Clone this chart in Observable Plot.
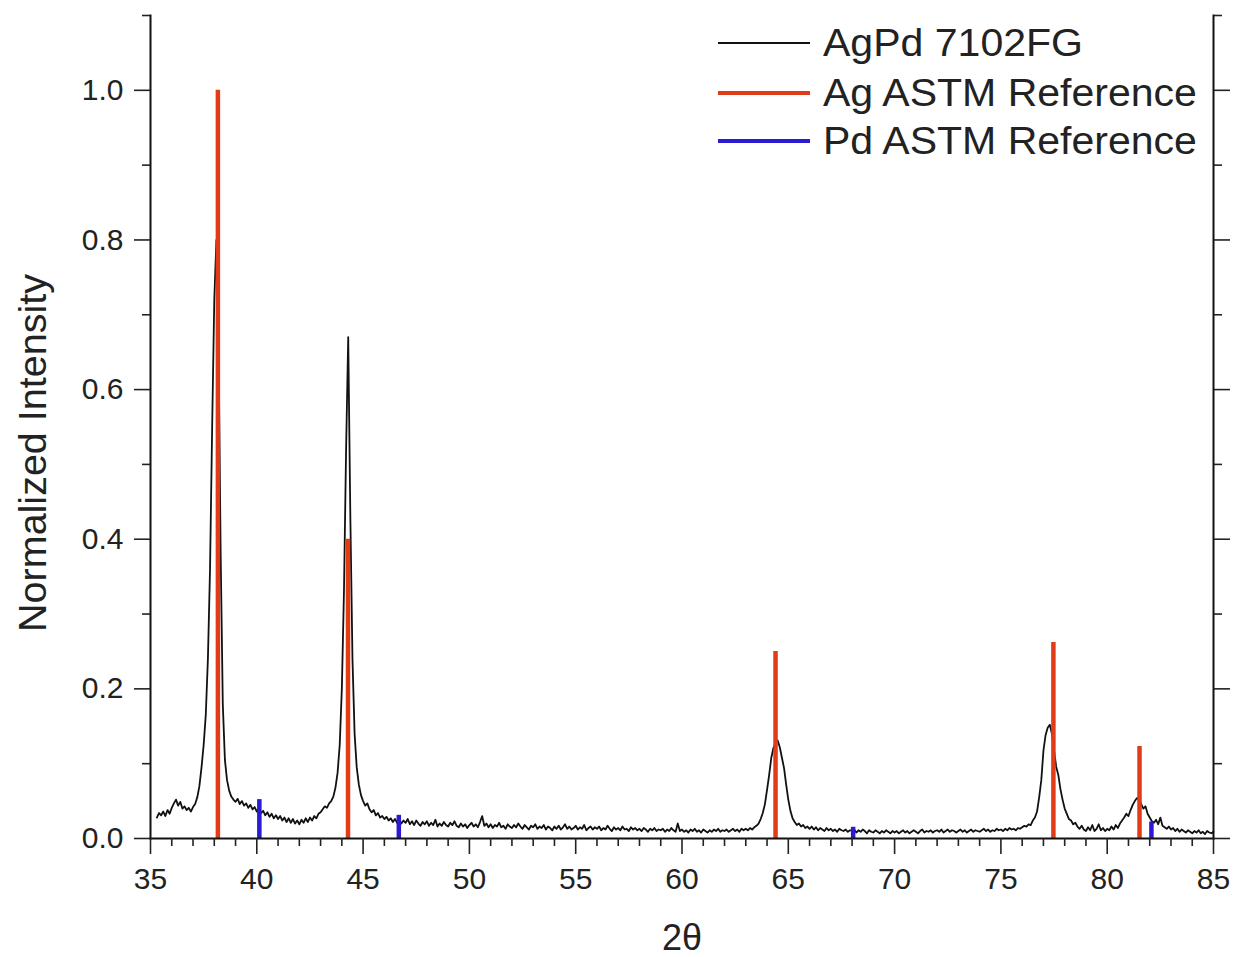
<!DOCTYPE html>
<html>
<head>
<meta charset="utf-8">
<script src="https://cdn.jsdelivr.net/npm/d3@7"></script>
<script src="https://cdn.jsdelivr.net/npm/@observablehq/plot@0.6"></script>
<style>
  html, body { margin: 0; padding: 0; background: #fff; }
  #chart { width: 1238px; height: 957px; }
</style>
</head>
<body>
<div id="chart"></div>
<script>
// ---- Data ----
// Measured pattern: 2θ grid starts at 35.3° with 0.1° sampling
const thetaStart = 35.3;
const thetaStep = 0.1;
const intensity = [
  0.028, 0.034, 0.031, 0.036, 0.030, 0.038, 0.033,                       // 35.3-35.9
  0.041, 0.047, 0.052, 0.044, 0.049, 0.040, 0.043, 0.038, 0.041, 0.036,  // 36
  0.042, 0.046, 0.055, 0.070, 0.095, 0.125, 0.165, 0.240, 0.360, 0.550,  // 37
  0.720, 0.800, 0.660, 0.380, 0.180, 0.105, 0.078, 0.064, 0.056, 0.052,  // 38
  0.049, 0.053, 0.046, 0.050, 0.044, 0.047, 0.041, 0.045, 0.039, 0.042,  // 39
  0.036, 0.040, 0.034, 0.037, 0.031, 0.035, 0.029, 0.033, 0.027, 0.031,  // 40
  0.026, 0.030, 0.024, 0.028, 0.022, 0.027, 0.021, 0.026, 0.020, 0.024,  // 41
  0.019, 0.025, 0.021, 0.027, 0.022, 0.028, 0.024, 0.030, 0.027, 0.033,  // 42
  0.035, 0.039, 0.043, 0.041, 0.047, 0.050, 0.056, 0.068, 0.088, 0.125,  // 43
  0.200, 0.330, 0.520, 0.670, 0.430, 0.240, 0.140, 0.095, 0.072, 0.058,  // 44
  0.050, 0.044, 0.047, 0.039, 0.035, 0.038, 0.031, 0.034, 0.028, 0.030,  // 45
  0.026, 0.029, 0.024, 0.027, 0.022, 0.026, 0.021, 0.025, 0.020, 0.024,  // 46
  0.021, 0.026, 0.019, 0.023, 0.018, 0.024, 0.020, 0.017, 0.022, 0.019,  // 47
  0.023, 0.017, 0.021, 0.018, 0.025, 0.016, 0.020, 0.017, 0.022, 0.018,  // 48
  0.016, 0.021, 0.018, 0.023, 0.017, 0.015, 0.020, 0.016, 0.019, 0.014,  // 49
  0.018, 0.021, 0.016, 0.019, 0.015, 0.022, 0.030, 0.017, 0.020, 0.015,  // 50
  0.019, 0.014, 0.018, 0.016, 0.021, 0.015, 0.017, 0.013, 0.019, 0.016,  // 51
  0.014, 0.018, 0.015, 0.020, 0.016, 0.013, 0.018, 0.015, 0.012, 0.017,  // 52
  0.015, 0.019, 0.013, 0.016, 0.014, 0.018, 0.012, 0.016, 0.014, 0.011,  // 53
  0.016, 0.013, 0.017, 0.012, 0.015, 0.019, 0.013, 0.016, 0.012, 0.014,  // 54
  0.017, 0.012, 0.015, 0.013, 0.018, 0.011, 0.014, 0.016, 0.012, 0.015,  // 55
  0.013, 0.016, 0.011, 0.014, 0.012, 0.017, 0.013, 0.010, 0.015, 0.012,  // 56
  0.014, 0.011, 0.016, 0.012, 0.013, 0.010, 0.015, 0.012, 0.014, 0.011,  // 57
  0.013, 0.010, 0.014, 0.012, 0.009, 0.013, 0.011, 0.014, 0.010, 0.012,  // 58
  0.011, 0.013, 0.009, 0.012, 0.010, 0.014, 0.011, 0.009, 0.020, 0.010,  // 59
  0.012, 0.009, 0.011, 0.008, 0.012, 0.010, 0.013, 0.009, 0.011, 0.008,  // 60
  0.012, 0.010, 0.008, 0.011, 0.009, 0.012, 0.010, 0.013, 0.009, 0.011,  // 61
  0.010, 0.012, 0.009, 0.011, 0.013, 0.010, 0.012, 0.009, 0.013, 0.011,  // 62
  0.013, 0.011, 0.014, 0.012, 0.015, 0.017, 0.020, 0.026, 0.034, 0.046,  // 63
  0.065, 0.085, 0.108, 0.121, 0.128, 0.131, 0.122, 0.108, 0.094, 0.072,  // 64
  0.052, 0.037, 0.027, 0.022, 0.018, 0.020, 0.016, 0.018, 0.014, 0.016,  // 65
  0.013, 0.016, 0.012, 0.015, 0.011, 0.014, 0.012, 0.010, 0.014, 0.011,  // 66
  0.013, 0.010, 0.012, 0.009, 0.013, 0.011, 0.010, 0.012, 0.009, 0.011,  // 67
  0.010, 0.012, 0.008, 0.011, 0.009, 0.012, 0.010, 0.007, 0.011, 0.009,  // 68
  0.008, 0.011, 0.009, 0.007, 0.010, 0.008, 0.011, 0.009, 0.007, 0.010,  // 69
  0.008, 0.010, 0.007, 0.009, 0.011, 0.008, 0.010, 0.007, 0.009, 0.011,  // 70
  0.009, 0.007, 0.010, 0.012, 0.008, 0.010, 0.009, 0.011, 0.008, 0.010,  // 71
  0.011, 0.009, 0.012, 0.008, 0.010, 0.012, 0.009, 0.011, 0.010, 0.008,  // 72
  0.010, 0.012, 0.009, 0.011, 0.008, 0.010, 0.012, 0.009, 0.011, 0.010,  // 73
  0.009, 0.011, 0.013, 0.010, 0.012, 0.009, 0.011, 0.010, 0.013, 0.011,  // 74
  0.012, 0.010, 0.013, 0.011, 0.014, 0.012, 0.013, 0.011, 0.014, 0.013,  // 75
  0.015, 0.017, 0.016, 0.019, 0.018, 0.024, 0.028, 0.036, 0.055, 0.078,  // 76
  0.117, 0.138, 0.148, 0.152, 0.140, 0.118, 0.096, 0.085, 0.066, 0.052,  // 77
  0.040, 0.033, 0.026, 0.024, 0.019, 0.021, 0.016, 0.013, 0.017, 0.012,  // 78
  0.010, 0.015, 0.011, 0.018, 0.010, 0.013, 0.019, 0.011, 0.014, 0.010,  // 79
  0.013, 0.011, 0.016, 0.012, 0.018, 0.014, 0.020, 0.024, 0.028, 0.033,  // 80
  0.030, 0.038, 0.045, 0.050, 0.054, 0.052, 0.046, 0.040, 0.043, 0.033,  // 81
  0.028, 0.023, 0.021, 0.025, 0.019, 0.028, 0.017, 0.015, 0.013, 0.016,  // 82
  0.012, 0.014, 0.010, 0.013, 0.009, 0.012, 0.010, 0.008, 0.011, 0.009,  // 83
  0.007, 0.010, 0.008, 0.011, 0.007, 0.009, 0.006, 0.010, 0.008, 0.007,  // 84
  0.009                                                                  // 85.0
];

// Reference stick patterns
const agTheta = [38.17, 44.29, 64.40, 77.47, 81.52];
const agIntensity = [1.0, 0.40, 0.25, 0.262, 0.123];
const pdTheta = [40.12, 46.68, 68.05, 82.08];
const pdIntensity = [0.052, 0.031, 0.015, 0.022];

// Series names and colours
const seriesNames = ["AgPd 7102FG", "Ag ASTM Reference", "Pd ASTM Reference"];
const seriesColors = ["#111111", "#e23b17", "#2a1ad0"];

// Axis ticks and titles
const xMajorTicks = [35, 40, 45, 50, 55, 60, 65, 70, 75, 80, 85];
const xMinorTicks = [36, 37, 38, 39, 41, 42, 43, 44, 46, 47, 48, 49, 51, 52, 53, 54, 56, 57, 58, 59,
                     61, 62, 63, 64, 66, 67, 68, 69, 71, 72, 73, 74, 76, 77, 78, 79, 81, 82, 83, 84];
const yMajorTicks = [0, 0.2, 0.4, 0.6, 0.8, 1.0];
const yMinorTicks = [0.1, 0.3, 0.5, 0.7, 0.9, 1.1];
const xTitle = "2θ";
const yTitle = "Normalized Intensity";

// ---- Build tables ----
const spectrum = intensity.map((v, i) => ({theta: Math.round((thetaStart + i * thetaStep) * 10) / 10, v}));
const agSticks = agTheta.map((t, i) => ({theta: t, v: agIntensity[i]}));
const pdSticks = pdTheta.map((t, i) => ({theta: t, v: pdIntensity[i]}));

const font = "'Liberation Sans', Arial, Helvetica, sans-serif";

const chart = Plot.plot({
  width: 1238,
  height: 957,
  marginLeft: 150,
  marginRight: 25,
  marginTop: 15,
  marginBottom: 119,
  x: {domain: [35, 85]},
  y: {domain: [0, 1.1]},
  style: {fontFamily: font, fontSize: "30px", color: "#222", background: "#fff"},
  marks: [
    // measured pattern
    Plot.line(spectrum, {x: "theta", y: "v", stroke: seriesColors[0], strokeWidth: 1.8}),
    // reference sticks
    Plot.ruleX(agSticks, {x: "theta", y1: 0, y2: "v", stroke: seriesColors[1], strokeWidth: 4.5}),
    Plot.ruleX(pdSticks, {x: "theta", y1: 0, y2: "v", stroke: seriesColors[2], strokeWidth: 4.5}),
    // frame lines (left, right, bottom)
    Plot.frame({anchor: "left", stroke: "#111", strokeWidth: 2}),
    Plot.frame({anchor: "right", stroke: "#111", strokeWidth: 2}),
    Plot.frame({anchor: "bottom", stroke: "#111", strokeWidth: 2}),
    // x axis
    Plot.axisX({ticks: xMajorTicks, tickSize: 16, tickPadding: 13, tickFormat: d => String(d), label: null, strokeWidth: 1.6}),
    Plot.axisX({ticks: xMinorTicks, tickSize: 8, fill: "none", label: null, strokeWidth: 1.6}),
    // left y axis
    Plot.axisY({ticks: yMajorTicks, tickSize: 16, tickPadding: 11, tickFormat: d3.format(".1f"), label: null, strokeWidth: 1.6}),
    Plot.axisY({ticks: yMinorTicks, tickSize: 8, fill: "none", label: null, strokeWidth: 1.6}),
    // right y axis (ticks only)
    Plot.axisY({anchor: "right", ticks: yMajorTicks, tickSize: 16, fill: "none", label: null, strokeWidth: 1.6}),
    Plot.axisY({anchor: "right", ticks: yMinorTicks, tickSize: 8, fill: "none", label: null, strokeWidth: 1.6}),
    // axis titles
    Plot.text([xTitle], {frameAnchor: "bottom", dy: 100, fontSize: 36, fill: "#222", textAnchor: "middle", lineAnchor: "middle"}),
    Plot.text([yTitle], {frameAnchor: "left", rotate: -90, dx: -117, dy: 26, fontSize: 39.5, fill: "#222", textAnchor: "middle", lineAnchor: "middle"})
  ]
});

// ---- Legend inside the plot (top right) ----
const svg = d3.select(chart);
const legend = svg.append("g")
  .attr("font-family", font)
  .attr("font-size", 38)
  .attr("fill", "#222")
  .attr("text-anchor", "start");
const rowY = [43, 93, 141];
const rowWidth = [2, 4, 4];
seriesNames.forEach((name, i) => {
  legend.append("line")
    .attr("x1", 718).attr("x2", 810)
    .attr("y1", rowY[i]).attr("y2", rowY[i])
    .attr("stroke", seriesColors[i]).attr("stroke-width", rowWidth[i]);
  legend.append("text")
    .attr("transform", `translate(823,${rowY[i]}) scale(1.08,1)`)
    .attr("dy", "0.35em")
    .attr("text-anchor", "start")
    .text(name);
});

document.getElementById("chart").appendChild(chart);
</script>
</body>
</html>
